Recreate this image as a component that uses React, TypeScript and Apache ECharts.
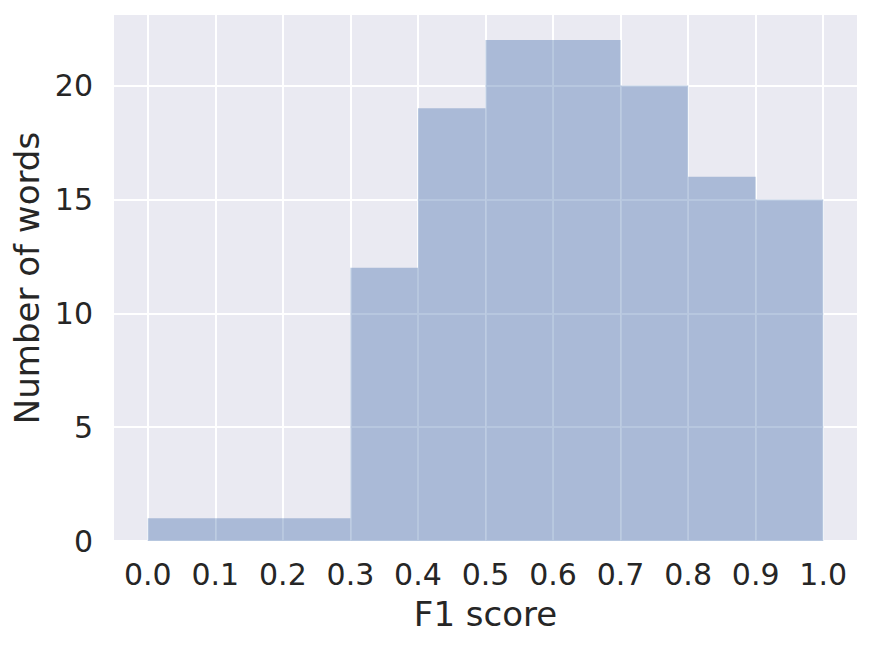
import React, { useEffect, useRef } from "react";
import * as echarts from "echarts";

const binStarts = [0.0, 0.1, 0.2, 0.3, 0.4, 0.5, 0.6, 0.7, 0.8, 0.9];
const binEnds = [0.1, 0.2, 0.3, 0.4, 0.5, 0.6, 0.7, 0.8, 0.9, 1.0];
const counts = [1, 1, 1, 12, 19, 22, 22, 20, 16, 15];
const xTicks = [0.0, 0.1, 0.2, 0.3, 0.4, 0.5, 0.6, 0.7, 0.8, 0.9, 1.0];
const yTicks = [0, 5, 10, 15, 20];

const FONT = "DejaVu Sans";
const TEXT = "#262626";

export default function App() {
  const ref = useRef<HTMLDivElement>(null);
  useEffect(() => {
    const chart = echarts.init(ref.current!, null, { renderer: "svg" });
    const data = counts.map((c, i) => [binStarts[i], binEnds[i], c]);
    chart.setOption({
      animation: false,
      backgroundColor: "#ffffff",
      grid: {
        left: 114,
        top: 15,
        width: 743,
        height: 526,
        show: true,
        backgroundColor: "#EAEAF2",
        borderWidth: 0,
        containLabel: false,
      },
      xAxis: {
        type: "value",
        min: -0.05,
        max: 1.05,
        name: "F1 score",
        nameLocation: "middle",
        nameGap: 56,
        nameTextStyle: { fontFamily: FONT, fontSize: 34, color: TEXT },
        axisLine: { show: false },
        axisTick: { show: false, customValues: xTicks },
        axisLabel: {
          customValues: xTicks,
          formatter: (v: number) => v.toFixed(1),
          fontFamily: FONT,
          fontSize: 30,
          color: TEXT,
          margin: 18,
        },
        splitLine: { show: true, lineStyle: { color: "#ffffff", width: 2 } },
      },
      yAxis: {
        type: "value",
        min: 0,
        max: 23.1,
        name: "Number of words",
        nameLocation: "middle",
        nameGap: 69,
        nameTextStyle: { fontFamily: FONT, fontSize: 34, color: TEXT },
        axisLine: { show: false },
        axisTick: { show: false, customValues: yTicks },
        axisLabel: {
          customValues: yTicks,
          fontFamily: FONT,
          fontSize: 30,
          color: TEXT,
          margin: 21,
        },
        splitLine: { show: true, lineStyle: { color: "#ffffff", width: 2 } },
      },
      series: [
        {
          type: "custom",
          data,
          encode: { x: [0, 1], y: 2 },
          renderItem: (params: any, api: any) => {
            const p0 = api.coord([api.value(0), api.value(2)]);
            const p1 = api.coord([api.value(1), 0]);
            return {
              type: "rect",
              shape: {
                x: p0[0],
                y: p0[1],
                width: p1[0] - p0[0],
                height: p1[1] - p0[1],
              },
              style: { fill: "rgba(76,114,176,0.4)" },
            };
          },
        },
      ],
    });
    return () => chart.dispose();
  }, []);
  return (
    <div
      ref={ref}
      style={{ position: "absolute", left: 0, top: 0, width: 872, height: 647 }}
    />
  );
}
